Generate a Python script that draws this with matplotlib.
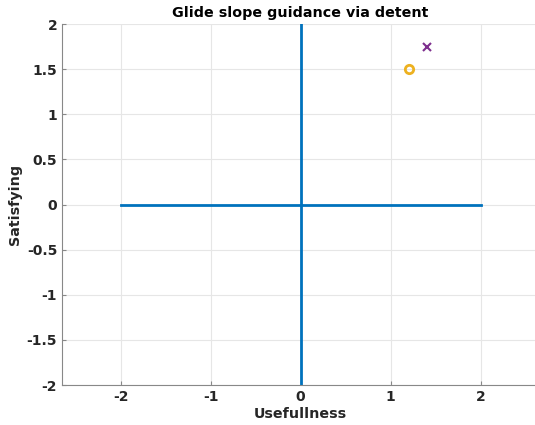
import matplotlib.pyplot as plt

# cross lines
h_x = [-2, 2]
h_y = [0, 0]
v_x = [0, 0]
v_y = [-2, 2]

# points
circle_x = [1.2]
circle_y = [1.5]
cross_x = [1.41]
cross_y = [1.75]

xticks = [-2, -1, 0, 1, 2]
yticks = [-2, -1.5, -1, -0.5, 0, 0.5, 1, 1.5, 2]

fig = plt.figure(figsize=(5.35, 4.25), dpi=100)
ax = fig.add_axes([0.1159, 0.0941, 0.8916, 0.8494])

ax.plot(h_x, h_y, color='#0072BD', lw=2)
ax.plot(v_x, v_y, color='#0072BD', lw=2)
ax.plot(circle_x, circle_y, 'o', mfc='none', mec='#EDB120', mew=2, ms=6)
ax.plot(cross_x, cross_y, 'x', color='#7E2F8E', mew=1.5, ms=6)

ax.set_xlim(-2.65, 2.65)
ax.set_ylim(-2, 2)
ax.set_xticks(xticks)
ax.set_yticks(yticks)
ax.set_xticklabels([str(t) for t in xticks], fontweight='bold', fontsize=10)
ax.set_yticklabels(['%g' % t for t in yticks], fontweight='bold', fontsize=10)
ax.tick_params(direction='in', length=3, color='#888888', labelcolor='#262626')
ax.grid(True, color='#e6e6e6', lw=0.8)
ax.set_axisbelow(True)
for s in ['top', 'right']:
    ax.spines[s].set_visible(False)
for s in ['left', 'bottom']:
    ax.spines[s].set_color('#888888')

ax.set_xlabel('Usefullness', fontweight='bold', fontsize=10.3, color='#262626', labelpad=2)
ax.set_ylabel('Satisfying', fontweight='bold', fontsize=10.3, color='#262626', labelpad=3)
ax.set_title('Glide slope guidance via detent', fontweight='bold', fontsize=10.3, pad=5)

fig.savefig('out.png', dpi=100)
